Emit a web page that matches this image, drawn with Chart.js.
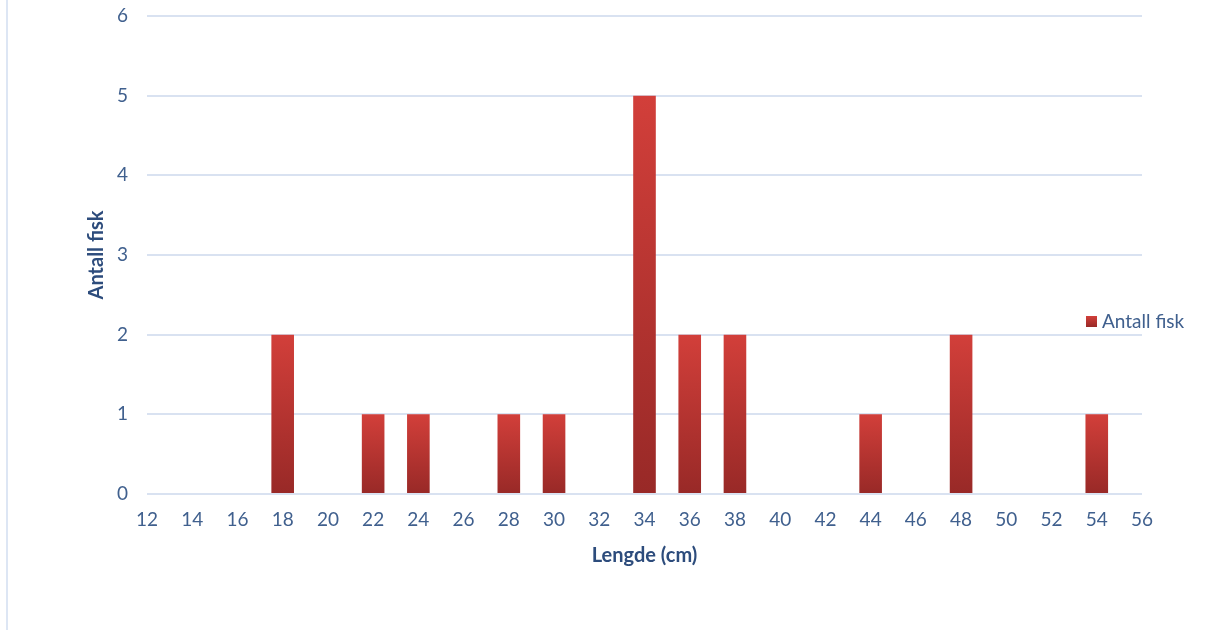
<!DOCTYPE html>
<html>
<head>
<meta charset="utf-8">
<script src="https://cdn.jsdelivr.net/npm/chart.js@4.4.1/dist/chart.umd.min.js"></script>
<style>
html,body{margin:0;padding:0;background:#fff;overflow:hidden;}
#wrap{width:1213px;height:630px;position:relative;}
canvas{display:block;}
</style>
</head>
<body>
<div id="wrap"><canvas id="c" width="1213" height="630"></canvas></div>
<script>
const lengths = [12,14,16,18,20,22,24,26,28,30,32,34,36,38,40,42,44,46,48,50,52,54,56];
const counts  = [0,0,0,2,0,1,1,0,1,1,0,5,2,2,0,0,1,0,2,0,0,1,0];
const seriesLabel = 'Antall fisk';
const xTitle = 'Lengde (cm)';
const yTitle = 'Antall fisk';
const yTicks = [0,1,2,3,4,5,6];

const FONT = 'Lato, "Open Sans", sans-serif';
const TICK_COLOR = '#40608e';
const TITLE_COLOR = '#2d4c7c';
const GRID = '#d9e2f1';

function barGradient(ctx, top, bottom){
  const g = ctx.createLinearGradient(0, top, 0, bottom);
  g.addColorStop(0, '#d23f3a');
  g.addColorStop(1, '#982927');
  return g;
}

const sidePlugin = {
  id: 'side',
  beforeDraw(chart){
    const ctx = chart.ctx;
    ctx.save();
    ctx.fillStyle = '#dde6f4';
    ctx.fillRect(6, 0, 2, chart.height);
    ctx.restore();
  },
  afterDraw(chart){
    const ctx = chart.ctx;
    const label = chart.data.datasets[0].label;
    const x = 1086, y = 316, s = 11;
    ctx.save();
    ctx.fillStyle = barGradient(ctx, y, y + s);
    ctx.fillRect(x, y, s, s);
    ctx.fillStyle = TICK_COLOR;
    ctx.font = '19px ' + FONT;
    ctx.textBaseline = 'middle';
    ctx.textAlign = 'left';
    ctx.fillText(label, x + s + 5, y + s/2);
    ctx.restore();
  }
};

new Chart(document.getElementById('c'), {
  type: 'bar',
  data: {
    labels: lengths,
    datasets: [{
      label: seriesLabel,
      data: counts,
      backgroundColor(context){
        const chart = context.chart;
        if (!chart.chartArea || context.type !== 'data') return '#b83431';
        const ys = chart.scales.y;
        const v = context.raw;
        const top = ys.getPixelForValue(v);
        const bottom = ys.getPixelForValue(0);
        if (bottom - top < 1) return '#b83431';
        return barGradient(chart.ctx, top, bottom);
      },
      borderWidth: 0,
      barPercentage: 0.5,
      categoryPercentage: 1
    }]
  },
  options: {
    responsive: false,
    animation: false,
    devicePixelRatio: 1,
    layout: { padding: { left: 0, top: 16, right: 71, bottom: 56 } },
    plugins: { legend: { display: false }, tooltip: { enabled: false } },
    scales: {
      x: {
        offset: false,
        grid: { display: false, drawTicks: false },
        border: { display: false },
        ticks: { color: TICK_COLOR, font: { family: FONT, size: 19 }, padding: 14, maxRotation: 0, autoSkip: false },
        title: { display: true, text: xTitle, color: TITLE_COLOR, font: { family: FONT, size: 20, weight: 'bold' }, padding: { top: 0, bottom: 6 } },
        afterFit(s){ s.height = 80; s.paddingLeft = 0; s.paddingRight = 0; }
      },
      y: {
        min: 0, max: 6,
        afterBuildTicks(s){ s.ticks = yTicks.map(v => ({ value: v })); },
        grid: { color: GRID, lineWidth: 2, drawTicks: false },
        border: { display: false },
        ticks: { color: TICK_COLOR, font: { family: FONT, size: 19 }, padding: 19 },
        title: { display: true, text: yTitle, color: TITLE_COLOR, font: { family: FONT, size: 20, weight: 'bold' }, padding: { top: 85, bottom: 0 } },
        afterFit(s){ s.width = 147; s.paddingTop = 0; s.paddingBottom = 0; }
      }
    }
  },
  plugins: [sidePlugin]
});
</script>
</body>
</html>
